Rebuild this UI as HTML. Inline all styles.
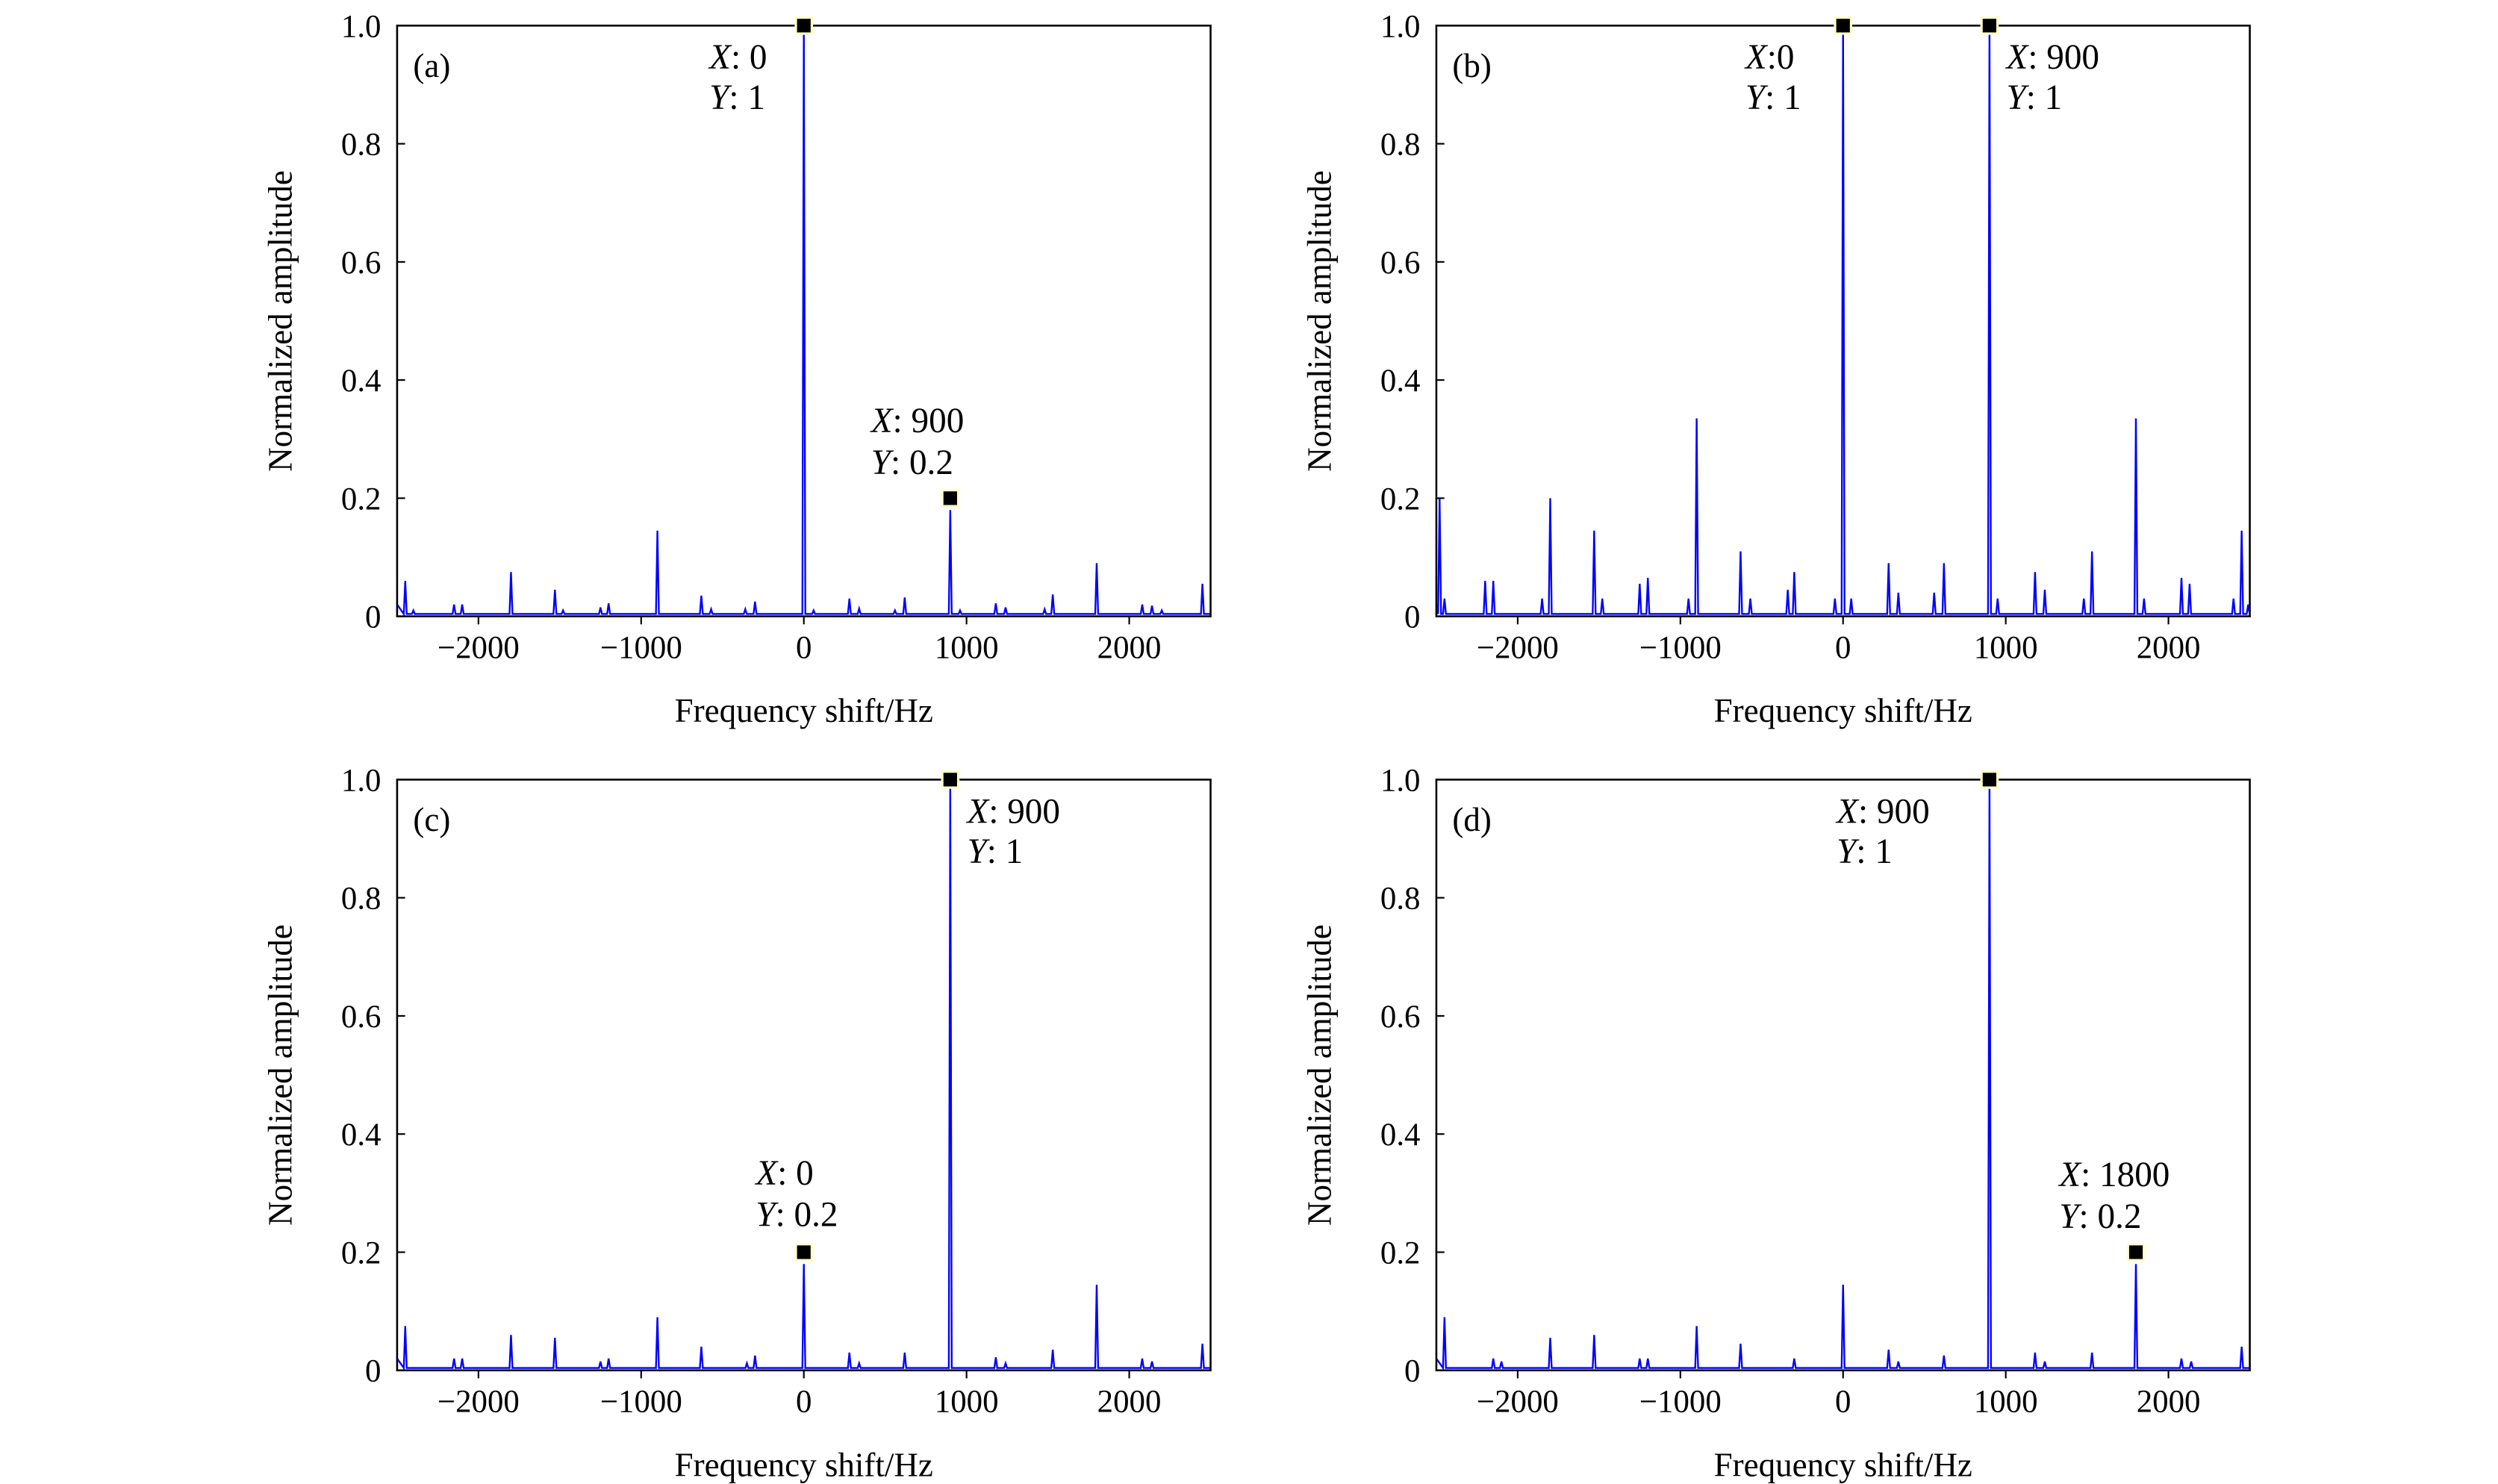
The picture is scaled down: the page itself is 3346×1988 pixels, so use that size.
<!DOCTYPE html>
<html><head><meta charset="utf-8"><style>
html,body{margin:0;padding:0;background:#fff}
svg{display:block}
text{font-family:"Liberation Serif",serif;fill:#000}
</style></head><body>
<svg id="fig" width="3346" height="1988" viewBox="0 0 1560 927" preserveAspectRatio="none" xmlns="http://www.w3.org/2000/svg"></svg>
<script>
const xTicks = [-2000, -1000, 0, 1000, 2000];
const yTicks = [0, 0.2, 0.4, 0.6, 0.8, 1.0];
const yTickLabels = ["0", "0.2", "0.4", "0.6", "0.8", "1.0"];
const peaksA_f = [-2450,-2400,-2150,-2100,-1800,-1530,-1480,-1250,-1200,-900,-630,-570,-360,-300,0,60,280,340,560,620,900,960,1180,1240,1480,1530,1800,2080,2140,2200,2450];
const peaksA_a = [0.06,0.01,0.02,0.02,0.075,0.045,0.01,0.015,0.022,0.145,0.035,0.012,0.012,0.025,1,0.01,0.03,0.013,0.01,0.032,0.18,0.01,0.022,0.015,0.012,0.037,0.09,0.02,0.018,0.01,0.055];
const peaksB_f = [-2480,-2450,-2200,-2150,-1850,-1800,-1530,-1480,-1250,-1200,-950,-900,-630,-570,-340,-300,-50,0,50,280,340,560,620,900,950,1180,1240,1480,1530,1800,1850,2080,2130,2400,2450,2490];
const peaksB_a = [0.2,0.03,0.06,0.06,0.03,0.2,0.145,0.03,0.055,0.065,0.03,0.335,0.11,0.03,0.045,0.075,0.03,1,0.03,0.09,0.04,0.04,0.09,1,0.03,0.075,0.045,0.03,0.11,0.335,0.03,0.065,0.055,0.03,0.145,0.02];
const peaksC_f = [-2450,-2150,-2100,-1800,-1530,-1250,-1200,-900,-630,-350,-300,0,280,340,620,900,1180,1240,1530,1800,2080,2140,2450];
const peaksC_a = [0.075,0.02,0.02,0.06,0.055,0.015,0.02,0.09,0.04,0.012,0.025,0.18,0.03,0.012,0.03,1,0.022,0.012,0.035,0.145,0.02,0.015,0.045];
const peaksD_f = [-2450,-2150,-2100,-1800,-1530,-1250,-1200,-900,-630,-300,0,280,340,620,900,1180,1240,1530,1800,2080,2140,2450];
const peaksD_a = [0.09,0.02,0.015,0.055,0.06,0.02,0.02,0.075,0.045,0.02,0.145,0.035,0.015,0.025,1,0.03,0.015,0.03,0.18,0.02,0.015,0.04];
const markersA = [[0,1],[900,0.2]];
const markersB = [[0,1],[900,1]];
const markersC = [[900,1],[0,0.2]];
const markersD = [[900,1],[1800,0.2]];

const NS="http://www.w3.org/2000/svg";
const fig=document.getElementById('fig');
function mk(tag,attrs,parent){const e=document.createElementNS(NS,tag);for(const k in attrs)e.setAttribute(k,attrs[k]);(parent||fig).appendChild(e);return e;}

const panels=[
 {id:'a',L:248,R:756,T:16,B:385,f:peaksA_f,a:peaksA_a,m:markersA,
  ann:[[443,43,'X',': 0'],[443,68,'Y',': 1'],[544,270,'X',': 900'],[544,296,'Y',': 0.2']]},
 {id:'b',L:897,R:1405,T:16,B:385,f:peaksB_f,a:peaksB_a,m:markersB,
  ann:[[1090,43,'X',':0'],[1090,68,'Y',': 1'],[1253,43,'X',': 900'],[1253,68,'Y',': 1']]},
 {id:'c',L:248,R:756,T:487,B:856,f:peaksC_f,a:peaksC_a,m:markersC,
  ann:[[604,514,'X',': 900'],[604,539,'Y',': 1'],[472,740,'X',': 0'],[472,766,'Y',': 0.2']]},
 {id:'d',L:897,R:1405,T:487,B:856,f:peaksD_f,a:peaksD_a,m:markersD,
  ann:[[1147,514,'X',': 900'],[1147,539,'Y',': 1'],[1286,741,'X',': 1800'],[1286,767,'Y',': 0.2']]}
];

panels.forEach(p=>{
  const g=mk('g',{});
  
  
  const xs=v=>p.L+(v+2500)/5000*(p.R-p.L);
  const ys=v=>p.B-v*(p.B-p.T);
  const base=0.004;
  let pts=[[-2500,0.02]];
  const idx=p.f.map((v,i)=>i).sort((i,j)=>p.f[i]-p.f[j]);
  idx.forEach(i=>{const f=p.f[i];pts.push([f-9,base]);pts.push([f,p.a[i]]);pts.push([f+9,base]);});
  pts.push([2500,base]);
  pts=pts.filter(q=>q[0]>=-2500&&q[0]<=2500);
  const line=mk('polyline',{points:pts.map(q=>xs(q[0]).toFixed(2)+','+ys(q[1]).toFixed(2)).join(' '),fill:'none',stroke:'#0000ff','stroke-width':1.1},g);
  
  
  const box=mk('rect',{x:p.L,y:p.T,width:p.R-p.L,height:p.B-p.T,fill:'none',stroke:'#000','stroke-width':1.2},g);
  
  
  xTicks.forEach(t=>{
    mk('line',{x1:xs(t),x2:xs(t),y1:p.B,y2:p.B+5,stroke:'#000','stroke-width':1},g);
    const tx=mk('text',{x:xs(t),y:p.B+26,'text-anchor':'middle','font-size':20},g);
    tx.textContent=t<0?'\u2212'+(-t):String(t);
    
    
  });
  yTicks.forEach((t,i)=>{
    mk('line',{x1:p.L,x2:p.L+5,y1:ys(t),y2:ys(t),stroke:'#000','stroke-width':1},g);
    const tx=mk('text',{x:p.L-10,y:ys(t)+7,'text-anchor':'end','font-size':20},g);
    tx.textContent=yTickLabels[i];
    
    
  });
  const xl=mk('text',{x:(p.L+p.R)/2,y:p.B+66,'text-anchor':'middle','font-size':21},g);
  xl.textContent='Frequency shift/Hz';
  
  
  const cy=(p.T+p.B)/2;
  const yl=mk('text',{x:p.L-66,y:cy,'text-anchor':'middle','font-size':21,transform:'rotate(-90 '+(p.L-66)+' '+cy+')'},g);
  yl.textContent='Normalized amplitude';
  
  
  const pl=mk('text',{x:p.L+10,y:p.T+32,'font-size':21},g);
  pl.textContent='('+p.id+')';
  
  
  p.m.forEach(m=>{
    const r=mk('rect',{x:xs(m[0])-5,y:ys(m[1])-5,width:10,height:10,fill:'#000',stroke:'#ffffcc','stroke-width':1.5},g);
    
    
  });
  p.ann.forEach(a=>{
    const t=mk('text',{x:a[0],y:a[1],'font-size':22},g);
    
    
    const s=mk('tspan',{'font-style':'italic'},t);s.textContent=a[2];
    const s2=mk('tspan',{},t);s2.textContent=a[3];
  });
});
</script>
</body></html>
